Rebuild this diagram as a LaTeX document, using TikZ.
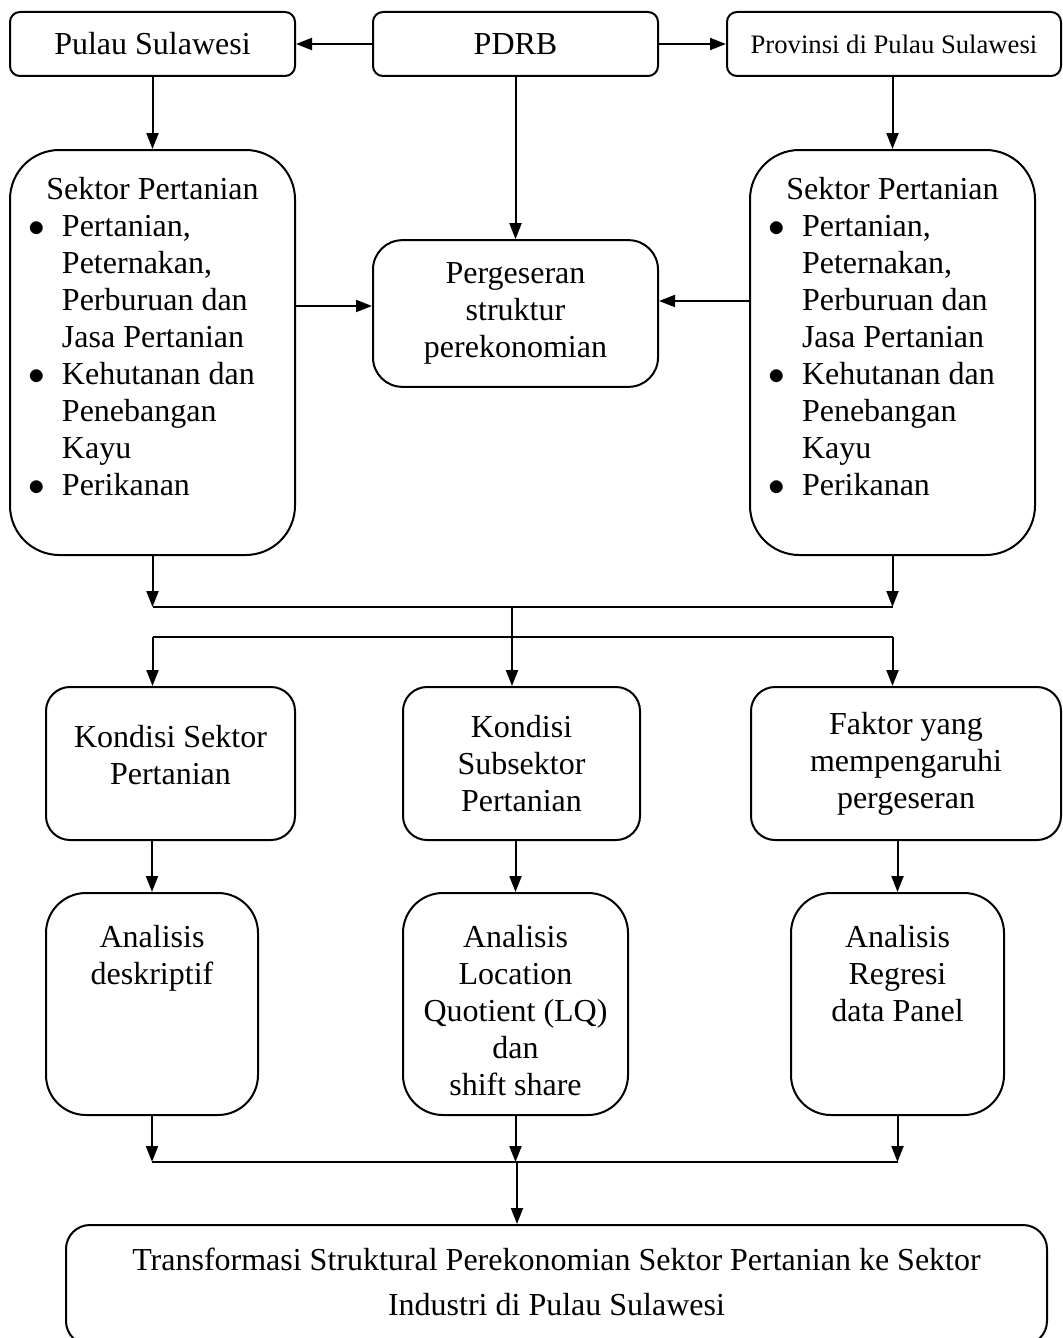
\documentclass[tikz,border=0pt]{standalone}
\usepackage{fontspec}
\setmainfont{Liberation Serif}
\usepackage{tikz}
\usetikzlibrary{positioning,arrows.meta,calc}
\newcommand{\topalign}[4]{\parbox[c][#2][t]{#1}{\vspace*{#3}\centering\strut #4}}
\newcommand{\bul}{$\bullet$}
\newcommand{\sektorlist}{%
  \parbox[c][303.75pt][t]{213.75pt}{\vspace*{18pt}\centering\strut Sektor Pertanian\par
    \raggedright\hspace*{14pt}\begin{tabular}[t]{@{}p{25pt}@{}l@{}}
      \bul & Pertanian,\\
           & Peternakan,\\
           & Perburuan dan\\
           & Jasa Pertanian\\
      \bul & Kehutanan dan\\
           & Penebangan\\
           & Kayu\\
      \bul & Perikanan
    \end{tabular}}}
\tikzset{
  basebox/.style={draw,line width=1.5pt,inner sep=0pt,align=center,font=\fontsize{24}{27.75}\selectfont},
  topbox/.style={basebox,rounded corners=7.5pt,minimum height=48pt},
  sektorbox/.style={basebox,rounded corners=37pt,minimum width=213.75pt,minimum height=303.75pt},
  geserbox/.style={basebox,rounded corners=22pt,minimum width=213.75pt,minimum height=110pt},
  kondisibox/.style={basebox,rounded corners=18pt,minimum height=114.75pt},
  analbox/.style={basebox,rounded corners=30pt},
  hasilbox/.style={basebox,rounded corners=18pt,font=\fontsize{24}{34}\selectfont},
  flow/.style={-{Triangle[length=12pt,width=9pt]},line width=1.5pt},
  joinline/.style={line width=1.5pt},
}
\begin{document}
\begin{tikzpicture}[x=0.75pt,y=-0.75pt]
  \useasboundingbox (0,0) rectangle (1063,1338);
  \node[topbox,minimum width=213.75pt] (pulau) at (152.5,44) {Pulau Sulawesi};
  \node[topbox,minimum width=213.75pt] (pdrb) at (515.5,44) {PDRB};
  \node[topbox,minimum width=250.5pt,font=\fontsize{20}{24}\selectfont] (prov) at (894,44) {Provinsi di Pulau Sulawesi};
  \node[sektorbox] (sektorL) at (152.5,352.5) {\sektorlist};
  \node[sektorbox] (sektorR) at (892.5,352.5) {\sektorlist};
  \node[geserbox] (geser) at (515.5,313.5) {Pergeseran\\struktur\\perekonomian};
  \node[kondisibox,minimum width=186.75pt] (kondisi1) at (170.5,763.5) {\topalign{186.75pt}{114.75pt}{26pt}{Kondisi Sektor\\Pertanian}};
  \node[kondisibox,minimum width=177.75pt] (kondisi2) at (521.5,763.5) {Kondisi\\Subsektor\\Pertanian};
  \node[kondisibox,minimum width=232.5pt] (faktor) at (906,763.5) {Faktor yang\\mempengaruhi\\pergeseran};
  \node[analbox] (anal1) at (152,1004) {\topalign{159pt}{166.5pt}{21.8pt}{Analisis\\deskriptif}};
  \node[analbox] (anal2) at (515.5,1004) {\topalign{168.75pt}{166.5pt}{21.8pt}{Analisis\\Location\\Quotient (LQ)\\dan\\shift share}};
  \node[analbox] (anal3) at (897.5,1004) {\topalign{159.75pt}{166.5pt}{21.8pt}{Analisis\\Regresi\\data Panel}};
  \node[hasilbox] (hasil) at (556.5,1285) {\topalign{735.75pt}{90pt}{10pt}{Transformasi Struktural Perekonomian Sektor Pertanian ke Sektor\\Industri di Pulau Sulawesi}};
  \coordinate (split) at (512,607);
  \coordinate (fan) at (512,637);
  \coordinate (merge) at (517,1162);
  \draw[flow] (pdrb.west) -- (pulau.east);
  \draw[flow] (pdrb.east) -- (prov.west);
  \draw[flow] (pulau) -- (sektorL);
  \draw[flow] (pdrb) -- (geser);
  \draw[flow] (prov.south -| sektorR.north) -- (sektorR.north);
  \draw[flow] (sektorL.east |- 0,306) -- (geser.west |- 0,306);
  \draw[flow] (sektorR.west |- 0,301) -- (geser.east |- 0,301);
  \draw[flow] (sektorL) -- (sektorL |- split);
  \draw[flow] (sektorR) -- (sektorR |- split);
  \draw[joinline] (sektorL |- split) -- (sektorR |- split);
  \draw[flow] (split) -- (split |- kondisi2.north);
  \draw[joinline] (sektorL |- fan) -- (sektorR |- fan);
  \draw[flow] (sektorL |- fan) -- (sektorL |- kondisi1.north);
  \draw[flow] (sektorR |- fan) -- (sektorR |- faktor.north);
  \draw[flow] (anal1 |- kondisi1.south) -- (anal1);
  \draw[flow] (anal2 |- kondisi2.south) -- (anal2);
  \draw[flow] (anal3 |- faktor.south) -- (anal3);
  \draw[flow] (anal1) -- (anal1 |- merge);
  \draw[flow] (anal2) -- (anal2 |- merge);
  \draw[flow] (anal3) -- (anal3 |- merge);
  \draw[joinline] (anal1 |- merge) -- (anal3 |- merge);
  \draw[flow] (merge) -- (merge |- hasil.north);
\end{tikzpicture}
\end{document}
